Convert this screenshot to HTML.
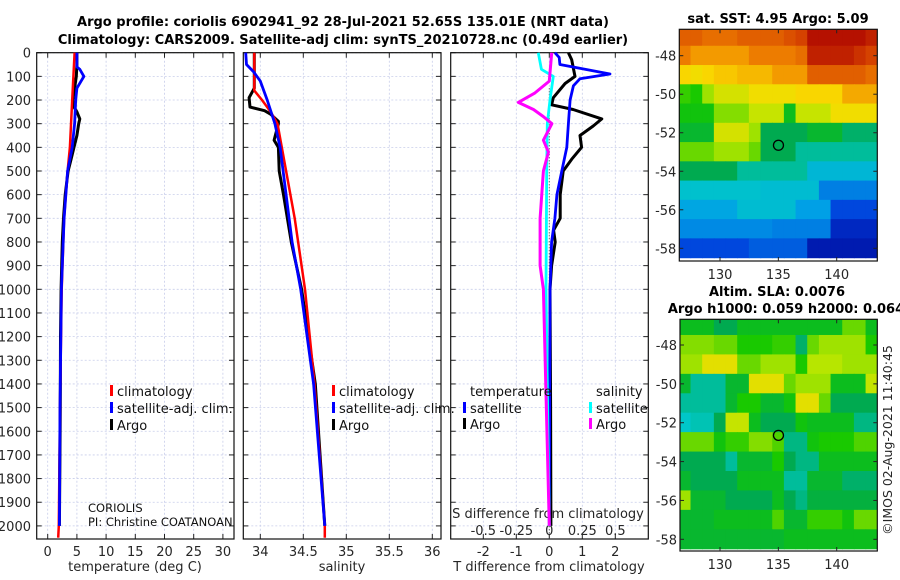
<!DOCTYPE html>
<html><head><meta charset="utf-8"><style>
body{margin:0;background:#fff}
svg{display:block;font-family:"DejaVu Sans","Liberation Sans",sans-serif}
</style></head><body>
<svg id="c" width="900" height="580" viewBox="0 0 900 580" xmlns="http://www.w3.org/2000/svg">
<text x="343" y="26" font-size="13" font-weight="bold" text-anchor="middle">Argo profile: coriolis 6902941_92 28-Jul-2021 52.65S 135.01E (NRT data)</text>
<text x="343" y="44" font-size="13" font-weight="bold" text-anchor="middle">Climatology: CARS2009. Satellite-adj clim: synTS_20210728.nc (0.49d earlier)</text>
<text x="778" y="23" font-size="13" font-weight="bold" text-anchor="middle">sat. SST: 4.95 Argo: 5.09</text>
<text x="777" y="296" font-size="13" font-weight="bold" text-anchor="middle">Altim. SLA: 0.0076</text>
<text x="786" y="313" font-size="13" font-weight="bold" text-anchor="middle">Argo h1000: 0.059 h2000: 0.064</text>
<text transform="translate(892,440) rotate(-90)" font-size="12.5" text-anchor="middle" fill="#262626">©IMOS 02-Aug-2021 11:40:45</text>
<g id="g"></g>
</svg>
<script>
// ---- profile data (depth in dbar) ----
const tArgoDepth=[0,50,100,150,200,230,250,280,300,350,400,450,500,600,700,800,900,1000,1200,1500,2000];
const tArgoVal=[5.0,5.0,4.9,4.6,4.3,4.5,5.0,5.5,5.3,5.0,4.5,4.0,3.5,3.0,2.7,2.5,2.4,2.3,2.2,2.15,2.0];
const tClimDepth=[0,200,400,500,700,1000,1500,2000,2050];
const tClimVal=[4.6,4.2,3.8,3.4,2.8,2.4,2.1,1.9,1.8];
const tSatDepth=[0,60,70,100,150,200,300,400,500,700,1000,1500,2000];
const tSatVal=[5.0,5.0,5.5,6.2,5.0,4.8,4.6,4.2,3.4,2.8,2.35,2.1,2.0];

const sArgoDepth=[0,150,190,230,245,260,290,300,370,400,500,600,800,900,1000,1400,2000];
const sArgoVal=[33.93,33.93,33.87,33.88,34.05,34.12,34.21,34.21,34.16,34.21,34.22,34.27,34.36,34.42,34.48,34.64,34.75];
const sClimDepth=[0,160,200,250,300,400,500,700,1000,1400,2000,2050];
const sClimVal=[33.93,33.93,34.02,34.12,34.2,34.25,34.3,34.4,34.52,34.63,34.75,34.75];
const sSatDepth=[0,50,80,120,200,300,400,600,800,1000,1400,2000];
const sSatVal=[33.83,33.84,33.92,34.0,34.08,34.17,34.23,34.3,34.37,34.47,34.62,34.75];

const dTArgoDepth=[0,30,100,130,190,220,240,280,310,350,400,450,500,600,700,750,800,900,1000,1500,2000];
const dTArgoVal=[0.58,0.68,0.78,0.48,0.12,0.07,0.72,1.59,1.33,0.93,0.98,0.68,0.42,0.33,0.33,0.13,0.18,0.07,0.02,0.04,0.05];
const dTSatDepth=[0,20,50,90,110,140,200,300,400,500,600,700,800,1000,2000];
const dTSatVal=[0.17,0.3,0.32,1.84,0.93,0.73,0.63,0.58,0.53,0.38,0.23,0.17,0.07,0.02,0.0];
const dSArgoDepth=[0,120,170,210,240,270,300,370,420,500,700,900,1000,2000];
const dSArgoVal=[0.018,0,-0.108,-0.235,-0.12,-0.045,0.02,-0.045,-0.007,-0.045,-0.07,-0.07,-0.045,0];
const dSSatDepth=[0,70,100,200,300,500,1000,2000];
const dSSatVal=[-0.083,-0.06,0.03,0.005,-0.015,-0.02,-0.025,0];

const depthTicks=[0,100,200,300,400,500,600,700,800,900,1000,1100,1200,1300,1400,1500,1600,1700,1800,1900,2000];
const tTicks=[0,5,10,15,20,25,30];
const sTicks=[34,34.5,35,35.5,36];
const sTickLabels=["34","34.5","35","35.5","36"];
const dTTicks=[-2,-1,0,1,2];
const dSTicks=[-0.5,-0.25,0,0.25,0.5];
const dSTickLabels=["-0.5","-0.25","0","0.25","0.5"];

// ---- map data: rows lat -47..-58, cols lon 127..143 ----
const mapLons=[127,128,129,130,131,132,133,134,135,136,137,138,139,140,141,142,143];
const mapLats=[-47,-48,-49,-50,-51,-52,-53,-54,-55,-56,-57,-58];
const sstRows=[
[7.4,7.4,7.3,7.3,7.3,7.4,7.4,7.4,7.4,7.5,7.6,7.9,7.9,7.9,7.9,7.9,7.8],
[7.2,7.0,7.0,7.0,7.0,7.0,7.2,7.2,7.2,7.2,7.3,7.8,7.8,7.8,7.8,7.7,7.6],
[6.6,6.5,6.6,6.7,6.7,6.8,6.8,6.8,7.0,7.0,7.0,7.4,7.4,7.4,7.4,7.4,7.3],
[5.6,5.5,6.0,6.3,6.3,6.3,6.5,6.5,6.5,6.5,6.6,6.6,6.6,6.6,6.9,6.9,6.9],
[5.4,5.4,5.4,5.9,5.9,5.9,6.2,6.2,6.2,5.3,6.2,6.2,6.2,6.5,6.5,6.5,6.5],
[5.2,5.2,5.2,6.3,6.3,6.3,6.0,5.0,5.0,5.0,5.0,5.2,5.2,5.2,4.9,4.9,4.9],
[5.8,5.8,5.8,6.0,6.0,6.0,5.8,5.0,5.0,5.0,4.7,4.7,4.7,4.7,4.7,4.7,4.7],
[5.0,5.0,5.0,5.0,5.0,4.7,4.7,4.7,4.7,4.7,4.7,4.2,4.2,4.2,4.2,4.2,4.2],
[4.4,4.4,4.4,4.4,4.4,4.4,4.4,4.3,4.3,4.3,4.3,4.3,3.5,3.5,3.5,3.5,3.5],
[3.9,3.9,3.9,3.9,3.9,4.3,4.3,4.3,4.3,4.3,3.8,3.8,3.8,3.0,3.0,3.0,3.0],
[3.6,3.6,3.6,3.6,3.6,3.6,3.6,3.6,3.5,3.5,3.5,3.5,3.5,2.6,2.6,2.6,2.6],
[3.0,3.0,3.0,3.0,3.0,3.0,3.2,3.2,3.2,3.2,3.2,2.4,2.4,2.4,2.4,2.4,2.4]];
const slaRows=[
[0.03,0.03,0.03,0.0,0.0,0.03,0.03,0.03,0.03,0.03,0.03,0.03,0.03,0.03,0.08,0.08,0.03],
[0.09,0.09,0.09,0.08,0.08,0.05,0.05,0.05,0.06,0.06,-0.01,0.08,0.1,0.1,0.1,0.1,0.05],
[0.1,0.1,0.14,0.14,0.14,0.08,0.08,0.1,0.1,0.1,0.05,0.11,0.11,0.11,0.1,0.1,0.1],
[0.02,-0.03,-0.03,-0.03,0.02,0.02,0.14,0.14,0.14,0.08,0.1,0.1,0.1,0.03,0.03,0.03,0.12],
[-0.03,-0.03,-0.03,-0.03,0.02,0.05,0.05,0.02,0.02,0.04,0.14,0.14,0.08,0.0,0.0,0.0,0.0],
[-0.05,-0.04,-0.04,0.0,0.12,0.12,0.03,0.0,0.0,0.0,0.04,0.03,0.03,0.03,0.03,-0.02,-0.02],
[0.08,0.08,0.08,0.04,0.06,0.06,0.09,0.09,0.07,-0.02,-0.02,0.04,0.05,0.05,0.05,0.07,0.07],
[0.0,0.0,0.0,0.0,-0.03,0.02,0.02,0.02,0.05,0.0,-0.02,-0.02,0.03,0.03,0.03,0.03,0.03],
[0.02,0.0,0.0,0.0,0.0,0.03,0.03,0.03,0.03,-0.03,-0.03,0.02,0.02,0.02,-0.01,-0.01,-0.01],
[0.1,0.02,0.02,0.02,0.0,0.0,0.0,0.0,0.03,0.0,-0.02,0.01,0.01,0.01,0.01,0.01,0.01],
[0.02,0.02,0.02,0.03,0.03,0.03,0.03,0.03,0.07,0.02,0.02,0.06,0.06,0.06,0.04,0.08,0.08],
[0.02,0.02,0.02,0.02,0.02,0.02,0.02,0.02,0.02,0.03,0.03,0.03,0.03,0.03,0.03,0.03,0.03]];
const mapLonTicks=[130,135,140];
const mapLatTicks=[-48,-50,-52,-54,-56,-58];
const argoPos=[135.01,-52.65];

const NS="http://www.w3.org/2000/svg";
const G=document.getElementById('g');
function mk(tag,attrs,parent){const e=document.createElementNS(NS,tag);for(const k in attrs)e.setAttribute(k,attrs[k]);(parent||G).appendChild(e);return e;}

const yTop=52.7, yPer=0.2366, yBot=539;
const dy=d=>yTop+d*yPer;
const panels=[
 {name:'temperature',x0:36.7,x1:234,vx:v=>47.7+v*5.84},
 {name:'salinity',x0:243.3,x1:441,vx:v=>260.3+(v-34)*86},
 {name:'difference',x0:450.7,x1:648.3,vx:v=>549.3+v*33}
];
const sx=v=>549.3+v*132;

panels.forEach((p,i)=>{
 const g=mk('g',{});
 
 
 depthTicks.forEach(d=>{const l=mk('line',{x1:p.x0,x2:p.x1,y1:dy(d),y2:dy(d),stroke:'#c8cdea','stroke-width':0.8,'stroke-dasharray':'2,2'},g);
   
   mk('line',{x1:p.x0,x2:p.x0+5,y1:dy(d),y2:dy(d),stroke:'#222'},g);
   mk('line',{x1:p.x1-5,x2:p.x1,y1:dy(d),y2:dy(d),stroke:'#222'},g);});
 const ticks=i==0?tTicks:i==1?sTicks:dTTicks;
 ticks.forEach((t,j)=>{const x=p.vx(t);
   mk('line',{x1:x,x2:x,y1:yTop,y2:yBot,stroke:'#c8cdea','stroke-width':0.8,'stroke-dasharray':'2,2'},g);
   mk('line',{x1:x,x2:x,y1:yBot-5,y2:yBot,stroke:'#222'},g);
   mk('line',{x1:x,x2:x,y1:yTop,y2:yTop+5,stroke:'#222'},g);
   const tx=mk('text',{x:x,y:556,'font-size':13,'text-anchor':'middle',fill:'#262626'},g);
   
   tx.textContent=i==1?sTickLabels[j]:String(t);});
 const fr=mk('rect',{x:p.x0,y:yTop,width:p.x1-p.x0,height:yBot-yTop,fill:'none',stroke:'#111','stroke-width':1.2},g);
 
});
depthTicks.forEach(d=>{const t=mk('text',{x:31,y:dy(d)+5,'font-size':13,'text-anchor':'end',fill:'#262626'});
 t.textContent=d;});
[['temperature (deg C)',135,'temperature-axis-title'],['salinity',342,'salinity-axis-title'],['T difference from climatology',549,'t-diff-axis-title']].forEach(a=>{
 const t=mk('text',{x:a[1],y:571,'font-size':13,'text-anchor':'middle',fill:'#262626'});
 t.textContent=a[0];});
const sdt=mk('text',{x:548,y:518,'font-size':13,'text-anchor':'middle',fill:'#262626'});
sdt.textContent='S difference from climatology';
dSTicks.forEach((t,j)=>{const e=mk('text',{x:sx(t),y:535,'font-size':13,'text-anchor':'middle',fill:'#262626'});
 e.textContent=dSTickLabels[j];});
const zl=mk('line',{x1:549.3,x2:549.3,y1:dy(150),y2:yBot,stroke:'#444','stroke-width':1,'stroke-dasharray':'1,2'});


function line(ds,vs,fx,color,w,name){
 const pts=ds.map((d,k)=>fx(vs[k]).toFixed(1)+','+dy(d).toFixed(1)).join(' ');
 const e=mk('polyline',{points:pts,fill:'none',stroke:color,'stroke-width':w,'stroke-linejoin':'round'});
 }
const P=panels;
line(tArgoDepth,tArgoVal,P[0].vx,'#000',3,'temp-argo-line');
line(tClimDepth,tClimVal,P[0].vx,'#f00',2.5,'temp-climatology-line');
line(tSatDepth,tSatVal,P[0].vx,'#00f',2.8,'temp-satellite-line');
line(sArgoDepth,sArgoVal,P[1].vx,'#000',3,'sal-argo-line');
line(sClimDepth,sClimVal,P[1].vx,'#f00',2.5,'sal-climatology-line');
line(sSatDepth,sSatVal,P[1].vx,'#00f',2.8,'sal-satellite-line');
line(dTArgoDepth,dTArgoVal,P[2].vx,'#000',3,'tdiff-argo-line');
line(dTSatDepth,dTSatVal,P[2].vx,'#00f',2.8,'tdiff-satellite-line');
line(dSSatDepth,dSSatVal,sx,'#0ff',2.8,'sdiff-satellite-line');
line(dSArgoDepth,dSArgoVal,sx,'#f0f',3,'sdiff-argo-line');

function leg(x,y,color,label,name){
 const r=mk('rect',{x:x-7,y:y-11,width:3,height:11,fill:color});
 
 const t=mk('text',{x:x,y:y,'font-size':13,fill:'#111'});
 t.textContent=label;}
[[117,'climatology','#f00'],[117,'satellite-adj. clim.','#00f'],[117,'Argo','#000']].forEach((a,k)=>leg(a[0],396+k*17,a[2],a[1],'temp-legend-'+k));
[[339,'climatology','#f00'],[339,'satellite-adj. clim.','#00f'],[339,'Argo','#000']].forEach((a,k)=>leg(a[0],396+k*17,a[2],a[1],'sal-legend-'+k));
const lt=mk('text',{x:470,y:396,'font-size':13,fill:'#111'});lt.textContent='temperature';
const ls=mk('text',{x:596,y:396,'font-size':13,fill:'#111'});ls.textContent='salinity';
leg(470,413,'#00f','satellite','diff-legend-t-sat');leg(470,429,'#000','Argo','diff-legend-t-argo');
leg(596,413,'#0ff','satellite','diff-legend-s-sat');leg(596,429,'#f0f','Argo','diff-legend-s-argo');
const c1=mk('text',{x:88,y:512,'font-size':11.5,fill:'#111'});c1.textContent='CORIOLIS';
const c2=mk('text',{x:88,y:526,'font-size':11.5,fill:'#111'});c2.textContent='PI: Christine COATANOAN';

const stops=[[0,[0,0,140]],[0.15,[0,60,220]],[0.3,[0,160,230]],[0.42,[0,200,200]],[0.5,[0,170,80]],[0.58,[20,200,0]],[0.68,[180,230,0]],[0.76,[250,220,0]],[0.86,[240,130,0]],[0.94,[210,60,0]],[1,[170,0,0]]];
function cmap(t){t=Math.max(0,Math.min(1,t));for(let i=1;i<stops.length;i++){if(t<=stops[i][0]){const a=stops[i-1],b=stops[i],f=(t-a[0])/(b[0]-a[0]);return 'rgb('+a[1].map((c,k)=>Math.round(c+(b[1][k]-c)*f)).join(',')+')';}}return 'rgb(170,0,0)';}
function drawMap(m){
 const g=mk('g',{});
 const lx=lon=>720+(lon-130)*11.67, ly=lat=>m.y48+(-48-lat)*m.ppd;
 const cid='clip'+m.name;const cp=mk('clipPath',{id:cid},g);mk('rect',{x:m.x0,y:m.y0,width:m.x1-m.x0,height:m.y1-m.y0},cp);
 const cg=mk('g',{'clip-path':'url(#'+cid+')'},g);
 m.rows.forEach((row,r)=>row.forEach((v,c)=>{
  const e=mk('rect',{x:lx(mapLons[c]-0.5)-0.3,y:ly(mapLats[r]+0.5)-0.3,width:11.67+0.6,height:m.ppd+0.6,fill:cmap(m.norm(v))},cg);
  }));
 mk('rect',{x:m.x0,y:m.y0,width:m.x1-m.x0,height:m.y1-m.y0,fill:'none',stroke:'#111','stroke-width':1.2},g);
 mapLonTicks.forEach(t=>{const x=lx(t);mk('line',{x1:x,x2:x,y1:m.y1-4,y2:m.y1,stroke:'#222'},g);mk('line',{x1:x,x2:x,y1:m.y0,y2:m.y0+4,stroke:'#222'},g);
  const e=mk('text',{x:x,y:m.y1+18,'font-size':13,'text-anchor':'middle',fill:'#262626'},g);e.textContent=t;});
 mapLatTicks.forEach(t=>{const y=ly(t);mk('line',{x1:m.x0,x2:m.x0+4,y1:y,y2:y,stroke:'#222'},g);mk('line',{x1:m.x1-4,x2:m.x1,y1:y,y2:y,stroke:'#222'},g);
  const e=mk('text',{x:m.x0-3,y:y+5,'font-size':13,'text-anchor':'end',fill:'#262626'},g);e.textContent=t;});
 const mk1=mk('circle',{cx:lx(argoPos[0]),cy:ly(argoPos[1]),r:5,fill:'none',stroke:'#000','stroke-width':1.3},g);
 
}
drawMap({name:'sst-map',rows:sstRows,x0:679.3,x1:877.3,y0:29.3,y1:261,y48:55.7,ppd:19.26,norm:v=>(v-2)/6});
drawMap({name:'sla-map',rows:slaRows,x0:680,x1:877.3,y0:319.3,y1:551,y48:345,ppd:19.43,norm:v=>(v+0.3)/0.6});
</script>
</body></html>
